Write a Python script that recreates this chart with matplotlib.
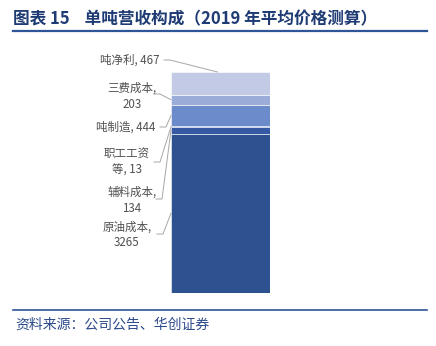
import matplotlib.pyplot as plt
from matplotlib.lines import Line2D

plt.rcParams['font.family'] = ['Noto Sans CJK SC', 'DejaVu Sans']

# 单吨营收构成（自下而上堆叠）
ITEMS = ['原油成本', '辅料成本', '职工工资等', '吨制造', '三费成本', '吨净利']
VALUES = [3265, 134, 13, 444, 203, 467]
LABELS = ['原油成本,\n3265', '辅料成本,\n134', '职工工资\n等, 13', '吨制造, 444', '三费成本,\n203', '吨净利, 467']
COLORS = ['#2E5290', '#3559A3', '#4A6DB5', '#6C8BCB', '#9CACD8', '#C2CAE6']

# 标签位置（图像像素坐标，左上为原点）及引线起点
LABEL_POS = [(127, 235), (132, 200), (127, 162), (126, 127), (132, 96), (130, 60)]
LINE_START = [(157, 234), (156, 199), (154, 162), (160, 127), (154, 94), (164, 60)]

W, H = 436, 346
fig = plt.figure(figsize=(W / 100, H / 100), dpi=100)

ax = fig.add_axes([171 / W, (H - 293) / H, 99 / W, 221 / H])
total = sum(VALUES)
bottom = 0
mids = []
for v, c in zip(VALUES, COLORS):
    ax.bar(0.5, v, width=1.0, bottom=bottom, color=c, edgecolor='white', linewidth=0.4)
    mids.append(bottom + v / 2)
    bottom += v
ax.set_xlim(0, 1)
ax.set_ylim(0, total)
ax.axis('off')


def px(x, y):
    return x / W, 1 - y / H


fig.canvas.draw()
to_fig = fig.transFigure.inverted()
for i, (lab, (tx, ty), (sx, sy)) in enumerate(zip(LABELS, LABEL_POS, LINE_START)):
    fx, fy = px(tx, ty)
    fig.text(fx, fy, lab, ha='center', va='center', fontsize=8.3, color='#505050', linespacing=1.3)
    # 引线终点：各段左边缘中点，吨净利指向柱顶
    if i == len(VALUES) - 1:
        target = ax.transData.transform((0.47, total))
    else:
        target = ax.transData.transform((0.0, mids[i]))
    tgt = to_fig.transform(target)
    a = px(sx, sy)
    b = px(sx + 6, sy)
    fig.add_artist(Line2D([a[0], b[0], tgt[0]], [a[1], b[1], tgt[1]],
                          transform=fig.transFigure, color='#A6A6A6', lw=0.7))

# 标题与分隔线
fig.text(13 / W, 1 - 19 / H, '图表 15    单吨营收构成（2019 年平均价格测算）',
         fontsize=12, fontweight='bold', color='#1F3B73', ha='left', va='center')
fig.add_artist(Line2D([13 / W, 427 / W], [1 - 31 / H, 1 - 31 / H],
                      transform=fig.transFigure, color='#2D5597', lw=1.6))
fig.add_artist(Line2D([13 / W, 427 / W], [1 - 310 / H, 1 - 310 / H],
                      transform=fig.transFigure, color='#2D5597', lw=1.2))
fig.text(15 / W, 1 - 325 / H, '资料来源：公司公告、华创证券',
         fontsize=10, color='#2C4A8A', ha='left', va='center', style='italic')

fig.savefig('out.png', dpi=100, facecolor='white')
